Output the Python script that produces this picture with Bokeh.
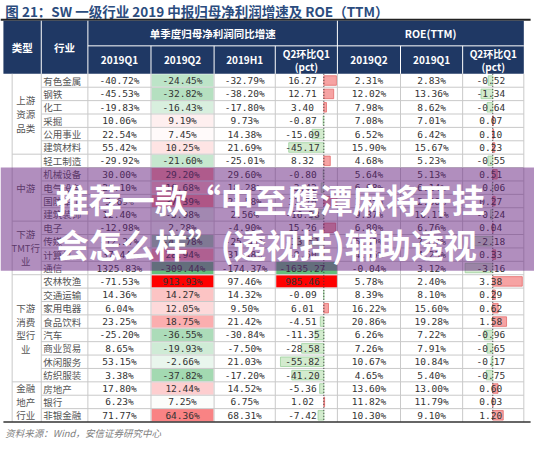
import numpy as np
from bokeh.plotting import figure
from bokeh.models import Range1d, ColumnDataSource
from bokeh.core.properties import value
from bokeh.embed import file_html
from bokeh.resources import INLINE

# ---------------- data ----------------
title = "图 21：SW 一级行业 2019 中报归母净利润增速及 ROE（TTM）"
source_note = "资料来源：Wind，安信证券研究中心"

industries = ["有色金属", "钢铁", "化工", "采掘", "公用事业", "建筑材料",
              "轻工制造", "机械设备", "电气设备", "国防军工", "建筑装饰",
              "电子", "传媒", "计算机", "通信",
              "农林牧渔", "交通运输", "家用电器", "食品饮料", "汽车", "商业贸易", "休闲服务", "纺织服装",
              "房地产", "银行", "非银金融"]
group_lines = [["上游", "资源", "品类"], ["中游"], ["下游", "TMT行", "业"],
               ["下游", "消费", "型行", "业"], ["金融", "地产", "行业"]]
group_sizes = [6, 5, 4, 8, 3]

q1_growth = [-40.72, -45.53, -19.83, 10.06, 22.54, 55.42, -29.92, 30.00, 20.10, 5.69, 12.40,
             -12.98, -12.27, 37.44, 1325.83, -71.53, 14.36, 6.04, 23.25, -25.20, 8.65, 53.15,
             3.38, 17.80, 6.23, 71.77]
q2_growth = [-24.45, -32.82, -16.43, 9.19, 7.45, 10.25, -21.60, 29.20, 16.68, 37.39, -3.98,
             2.28, -45.78, 28.94, -309.44, 913.93, 14.27, 12.05, 18.75, -36.55, -19.93, -2.66,
             -37.82, 12.44, 7.25, 64.36]
h1_growth = [-32.79, -38.20, -17.80, 9.73, 14.38, 21.69, -25.01, 29.60, 18.28, 21.58, 2.56,
             -4.90, -25.41, 31.48, -174.37, 97.46, 14.32, 9.50, 21.42, -30.84, -7.50, 21.03,
             -17.20, 14.52, 6.75, 68.31]
growth_chg = [16.27, 12.71, 3.40, -0.87, -15.09, -45.17, 8.32, -0.80, -3.42, 31.70, -16.38,
              15.26, -33.51, -8.50, -1635.27, 985.46, -0.09, 6.01, -4.51, -11.35, -28.58, -55.82,
              -41.20, -5.36, 1.02, -7.42]
roe_q2 = [2.31, 12.02, 7.98, 7.08, 6.52, 15.90, 4.68, 5.64, 6.08, 2.85, 9.87, 6.80, 5.69, 4.56,
          -0.04, 5.78, 8.39, 16.22, 20.86, 6.26, 7.26, 10.67, 4.65, 13.60, 11.82, 10.30]
roe_q1 = [2.83, 13.36, 8.62, 7.01, 6.42, 15.67, 5.23, 5.13, 6.14, 2.58, 10.11, 6.76, 7.87, 4.23,
          3.12, 2.40, 8.10, 15.60, 19.28, 7.22, 7.91, 10.84, 5.40, 13.00, 11.79, 9.10]
roe_chg = [-0.52, -1.34, -0.64, 0.07, 0.10, 0.23, -0.55, 0.51, -0.06, 0.27, -0.24, 0.04, -2.18,
           0.33, -3.16, 3.38, 0.29, 0.62, 1.58, -0.96, -0.65, -0.17, -0.75, 0.60, 0.03, 1.20]

header_top = ["单季度归母净利润同比增速", "ROE(TTM)"]
header_sub = ["2019Q1", "2019Q2", "2019H1", "Q2环比Q1\n(pct)", "2019Q2", "2019Q1", "Q2环比Q1\n(pct)"]

overlay_lines = ["推荐一款“中至鹰潭麻将开挂", "会怎么样”(透视挂)辅助透视"]

# ---------------- layout (reference pixel space) ----------------
W, H = 550, 455
col_edges = [3, 42, 90, 155, 220, 283, 347, 412, 476, 539]
HT, HM, HB = 21, 47, 76
RH = 13.88
n = len(industries)
tops = [HB + i * RH for i in range(n)]
mids = [t + RH / 2 for t in tops]
BODY_BOTTOM = HB + n * RH

CJK = value("Noto Sans CJK SC")
MONO = value("DejaVu Sans Mono")
NAVY = "#1F3864"

p = figure(width=534, height=439, x_range=Range1d(0, W), y_range=Range1d(H, 0),
           output_backend="svg", toolbar_location=None, min_border=0,
           x_axis_location=None, y_axis_location=None)
p.grid.visible = False
p.outline_line_color = None
p.background_fill_color = "white"
p.border_fill_color = "white"

# title
p.text(x=[5], y=[11], text=[title], text_font=CJK, text_font_style="bold",
       text_font_size="13.5px", text_color="#2B4C7E", text_align="left", text_baseline="middle")
p.segment(x0=[0], y0=[20], x1=[546], y1=[20], line_color="#222222", line_width=2)

# header
p.quad(left=[col_edges[0]], right=[col_edges[-1]], top=[HT], bottom=[HB],
       fill_color=NAVY, line_color=None)
hx0, hy0, hx1, hy1 = [], [], [], []
for xe in [42, 90, 347]:
    hx0.append(xe); hy0.append(HT); hx1.append(xe); hy1.append(HB)
for xe in [155, 220, 283, 412, 476]:
    hx0.append(xe); hy0.append(HM); hx1.append(xe); hy1.append(HB)
hx0.append(90); hy0.append(HM); hx1.append(539); hy1.append(HM)
p.segment(x0=hx0, y0=hy0, x1=hx1, y1=hy1, line_color="white", line_width=1)

p.text(x=[22.5, 66], y=[(HT + HB) / 2] * 2, text=["类型", "行业"], text_font=CJK,
       text_font_style="bold", text_font_size="10.5px", text_color="white",
       text_align="center", text_baseline="middle")
p.text(x=[(90 + 347) / 2, (347 + 539) / 2], y=[(HT + HM) / 2] * 2, text=header_top,
       text_font=CJK, text_font_style="bold", text_font_size="10.5px", text_color="white",
       text_align="center", text_baseline="middle")
sub_x, sub_y, sub_t = [], [], []
for k, lab in enumerate(header_sub):
    cx = (col_edges[k + 2] + col_edges[k + 3]) / 2
    parts = lab.split("\n")
    if len(parts) == 1:
        sub_x.append(cx); sub_y.append((HM + HB) / 2); sub_t.append(parts[0])
    else:
        sub_x += [cx, cx]; sub_y += [(HM + HB) / 2 - 6.5, (HM + HB) / 2 + 6.5]; sub_t += parts
p.text(x=sub_x, y=sub_y, text=sub_t, text_font=CJK, text_font_style="bold",
       text_font_size="10px", text_color="white", text_align="center", text_baseline="middle")

# ---------------- colour scale for 2019Q2 ----------------
def mix(hexc, t):
    c = np.array([int(hexc[i:i + 2], 16) for i in (1, 3, 5)], dtype=float)
    w = np.array([255.0, 255.0, 255.0])
    r = w + (c - w) * t
    return "#%02x%02x%02x" % tuple(int(round(v)) for v in r)

order = np.argsort(np.argsort(q2_growth))
q2_colors = []
vmax = max(q2_growth)
vmin = min(q2_growth)
for i, v in enumerate(q2_growth):
    pr = order[i] / (n - 1)
    if v == vmax:
        q2_colors.append("#FF0000")
    elif v == vmin:
        q2_colors.append("#63BE7B")
    elif pr >= 0.5:
        q2_colors.append(mix("#F8696B", (pr - 0.5) / 0.5 * 0.9))
    else:
        q2_colors.append(mix("#63BE7B", (0.5 - pr) / 0.5 * 0.7))

p.quad(left=[col_edges[3] + 0.5] * n, right=[col_edges[4] - 0.5] * n,
       top=[t + 0.5 for t in tops], bottom=[t + RH - 0.5 for t in tops],
       fill_color=q2_colors, line_color=None)

# ---------------- data bars ----------------
def bars(vals, axis_x, scale, lo, hi, extreme):
    L, R, T, B, F, C = [], [], [], [], [], []
    for i, v in enumerate(vals):
        if abs(v) >= extreme:
            L.append(lo - 1); R.append(hi + 1)
            T.append(tops[i] + 0.5); B.append(tops[i] + RH - 0.5)
            F.append("#FF0000" if v > 0 else "#63BE7B"); C.append(None)
            continue
        end = min(max(axis_x + v * scale, lo), hi)
        L.append(min(axis_x, end)); R.append(max(axis_x, end))
        T.append(tops[i] + 2); B.append(tops[i] + RH - 2)
        F.append("#F6A3A3" if v > 0 else "#D3EBCE")
        C.append("#E56B6B" if v > 0 else "#9CD09A")
    return dict(left=L, right=R, top=T, bottom=B, fill=F, line=C)

b1 = bars(growth_chg, 333, 0.8, 285, 346, 500)
b2 = bars(roe_chg, 507, 9.0, 478, 538, 100)
for b in (b1, b2):
    src = ColumnDataSource(b)
    p.quad(left="left", right="right", top="top", bottom="bottom", fill_color="fill",
           line_color="line", line_width=0.8, source=src)

# ---------------- grid lines ----------------
gx0, gy0, gx1, gy1 = [], [], [], []
bounds = np.cumsum(group_sizes)
for i in range(1, n):
    x_start = 12 if i in bounds else 42
    gx0.append(x_start); gx1.append(539); gy0.append(tops[i]); gy1.append(tops[i])
for xe in [12] + col_edges[1:]:
    gx0.append(xe); gx1.append(xe); gy0.append(HB); gy1.append(BODY_BOTTOM)
p.segment(x0=gx0, y0=gy0, x1=gx1, y1=gy1, line_color="#C9C9C9", line_width=1)

p.segment(x0=[333, 507], y0=[HB, HB], x1=[333, 507], y1=[BODY_BOTTOM, BODY_BOTTOM],
          line_color="#333333", line_width=1, line_dash="1 2")
p.segment(x0=[3], y0=[BODY_BOTTOM], x1=[546], y1=[BODY_BOTTOM], line_color="#333333", line_width=1.5)

# ---------------- group labels ----------------
gl_x, gl_y, gl_t = [], [], []
start = 0
for lines, sz in zip(group_lines, group_sizes):
    c = HB + (start + sz / 2) * RH
    k = len(lines)
    for j, ln in enumerate(lines):
        gl_x.append(26); gl_y.append(c + (j - (k - 1) / 2) * 14); gl_t.append(ln)
    start += sz
p.text(x=gl_x, y=gl_y, text=gl_t, text_font=CJK, text_font_size="9.5px", text_color="#555555",
       text_align="center", text_baseline="middle")

# industry names
p.text(x=[44] * n, y=mids, text=industries, text_font=CJK, text_font_size="9.5px",
       text_color="#555555", text_align="left", text_baseline="middle")

# values
def put(vals, cx, fmt):
    p.text(x=[cx] * n, y=mids, text=[fmt.format(v) for v in vals], text_font=MONO,
           text_font_size="9.5px", text_color="#333333", text_align="center", text_baseline="middle")

put(q1_growth, (90 + 155) / 2, "{:.2f}%")
put(q2_growth, (155 + 220) / 2, "{:.2f}%")
put(h1_growth, (220 + 283) / 2, "{:.2f}%")
put(growth_chg, 311, "{:.2f}")
put(roe_q2, (347 + 412) / 2, "{:.2f}%")
put(roe_q1, (412 + 476) / 2, "{:.2f}%")
put(roe_chg, 505, "{:.2f}")

# source
p.text(x=[5], y=[448], text=[source_note], text_font=CJK, text_font_style="italic",
       text_font_size="9.5px", text_color="#808080", text_align="left", text_baseline="middle")

# ---------------- overlay band ----------------
p.quad(left=[0], right=[W], top=[173], bottom=[280], fill_color="#641E7D", fill_alpha=0.5,
       line_color=None)
p.text(x=[57, 57], y=[206, 252], text=overlay_lines, text_font=CJK, text_font_style="bold",
       text_font_size="33px", text_color="white", text_align="left", text_baseline="middle")

open("out.html", "w").write(file_html(p, INLINE))
